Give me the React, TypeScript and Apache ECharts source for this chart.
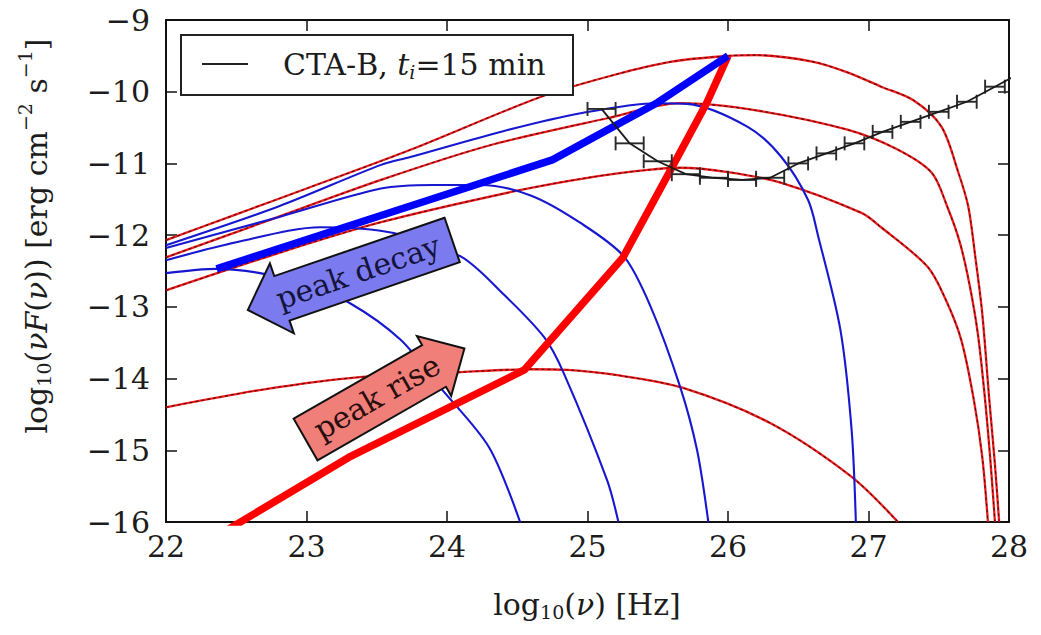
import React, { useEffect, useRef } from "react";
import * as echarts from "echarts";

// ---------- data (log10 nu [Hz], log10 nuF(nu) [erg cm^-2 s^-1]) ----------
const X_MIN = 22, X_MAX = 28, Y_MIN = -16, Y_MAX = -9;

// rising-phase spectra (red)
const R1_X = [22.0, 22.5, 23.0, 23.74, 24.67, 25.2, 25.6, 26.0, 26.2, 26.6, 26.85, 27.09, 27.32, 27.52, 27.64, 27.71, 27.76, 27.81, 27.86, 27.9, 27.93];
const R1_Y = [-12.07, -11.71, -11.35, -10.81, -10.07, -9.76, -9.58, -9.5, -9.49, -9.58, -9.73, -9.93, -10.12, -10.49, -11.13, -11.6, -12.3, -13.1, -14.3, -15.2, -16.0];
const R2_X = [22.0, 22.75, 23.53, 24.3, 25.14, 25.66, 26.2, 26.85, 27.2, 27.45, 27.56, 27.65, 27.72, 27.78, 27.83, 27.87, 27.9];
const R2_Y = [-12.31, -11.78, -11.23, -10.75, -10.37, -10.16, -10.26, -10.53, -10.8, -11.13, -11.6, -12.1, -12.7, -13.4, -14.3, -15.2, -16.0];
const R3_X = [22.0, 22.8, 23.53, 24.5, 25.0, 25.43, 25.66, 26.0, 26.38, 26.95, 27.09, 27.42, 27.55, 27.66, 27.75, 27.81, 27.85];
const R3_Y = [-12.77, -12.25, -11.82, -11.38, -11.2, -11.09, -11.06, -11.12, -11.27, -11.69, -11.89, -12.44, -12.9, -13.46, -14.3, -15.1, -16.0];
const R4_X = [22.0, 22.7, 23.38, 24.1, 24.6, 24.86, 25.2, 25.68, 26.3, 26.88, 27.21];
const R4_Y = [-14.4, -14.15, -13.98, -13.91, -13.87, -13.88, -13.95, -14.13, -14.62, -15.37, -16.0];

// decaying-phase spectra (blue)
const B1_X = [22.0, 22.8, 23.53, 23.74, 24.4, 24.95, 25.5, 25.71, 26.14, 26.38, 26.57, 26.64, 26.8, 26.88, 26.91];
const B1_Y = [-12.14, -11.6, -11.02, -10.91, -10.55, -10.3, -10.16, -10.17, -10.49, -10.91, -11.51, -12.0, -13.32, -14.72, -16.0];
const B2_X = [22.0, 22.8, 23.53, 23.9, 24.24, 24.6, 24.95, 25.26, 25.45, 25.66, 25.78, 25.86];
const B2_Y = [-12.18, -11.75, -11.35, -11.3, -11.3, -11.45, -11.83, -12.3, -13.0, -14.12, -15.0, -16.0];
const B3_X = [22.0, 22.5, 23.1, 23.62, 24.1, 24.4, 24.69, 24.83, 25.14, 25.22];
const B3_Y = [-12.35, -12.1, -11.89, -11.97, -12.3, -12.82, -13.42, -13.92, -15.42, -16.0];
const B4_X = [22.0, 22.36, 22.67, 23.0, 23.31, 23.67, 23.95, 24.3, 24.52];
const B4_Y = [-12.53, -12.47, -12.53, -12.7, -12.95, -13.46, -14.12, -14.96, -16.0];

// peak tracks
const RISE_X = [22.0, 23.3, 24.55, 25.25, 25.6, 25.85, 26.0];
const RISE_Y = [-16.62, -15.1, -13.88, -12.32, -11.06, -10.15, -9.5];
const DECAY_X = [22.36, 24.2, 24.75, 25.5, 26.0];
const DECAY_Y = [-12.47, -11.3, -10.95, -10.15, -9.5];

// CTA-B sensitivity, t_i = 15 min
const CTA_X = [25.1, 25.3, 25.5, 25.7, 25.9, 26.1, 26.3, 26.5, 26.7, 26.9, 27.1, 27.3, 27.5, 27.7, 27.9, 28.1];
const CTA_Y = [-10.24, -10.72, -10.97, -11.15, -11.2, -11.23, -11.2, -11.0, -10.86, -10.72, -10.56, -10.42, -10.28, -10.14, -9.93, -9.72];
const CTA_XERR = [0.1, 0.1, 0.1, 0.1, 0.1, 0.1, 0.1, 0.07, 0.07, 0.07, 0.07, 0.07, 0.07, 0.07, 0.07, 0.07];

const LEGEND_LABEL = "CTA-B, ";
const ARROW_DECAY = "peak decay";
const ARROW_RISE = "peak rise";

// ---------- styling ----------
const FONT = "'DejaVu Serif', serif";
const TXT = "#1c1c1c";

const pairs = (xs: number[], ys: number[]) => xs.map((x, i) => [x, ys[i]]);

const lineBase = {
  type: "line",
  symbol: "none",
  silent: true,
  smooth: 0.3,
  clip: true,
};

function redCurve(xs: number[], ys: number[]) {
  return [
    { ...lineBase, data: pairs(xs, ys), lineStyle: { color: "#f01c1c", width: 2.3 }, z: 2 },
    { ...lineBase, data: pairs(xs, ys), lineStyle: { color: "rgba(25,0,0,0.72)", width: 1.1, type: [3, 3] }, z: 3 },
  ];
}
function blueCurve(xs: number[], ys: number[]) {
  return [{ ...lineBase, data: pairs(xs, ys), lineStyle: { color: "#1717d0", width: 2.1 }, z: 4 }];
}

function arrowPts(L: number, bw: number, hw: number, hl: number, dir: number) {
  const pts = [
    [-L / 2, -bw], [L / 2 - hl, -bw], [L / 2 - hl, -hw], [L / 2, 0],
    [L / 2 - hl, hw], [L / 2 - hl, bw], [-L / 2, bw],
  ];
  return pts.map(([x, y]) => [x * dir, y]);
}

const deg = (d: number) => (d * Math.PI) / 180;

const axisCommon = {
  type: "value",
  axisLine: { show: true, onZero: false, lineStyle: { color: "#111", width: 2 } },
  axisTick: { show: true, inside: true, length: 11, lineStyle: { color: "#111", width: 1.5 } },
  splitLine: { show: false },
  interval: 1,
};

const option = {
  animation: false,
  backgroundColor: "#ffffff",
  grid: { left: 166, right: 32, top: 20, bottom: 113, containLabel: false },
  xAxis: [
    {
      ...axisCommon, min: X_MIN, max: X_MAX, position: "bottom",
      axisLabel: { show: true, margin: 9, color: TXT, fontFamily: FONT, fontSize: 30 },
    },
    {
      ...axisCommon, min: X_MIN, max: X_MAX, position: "top",
      axisLabel: { show: false },
    },
  ],
  yAxis: [
    {
      ...axisCommon, min: Y_MIN, max: Y_MAX, position: "left",
      axisLabel: {
        show: true, margin: 16, color: TXT, fontFamily: FONT, fontSize: 30,
        formatter: (v: number) => (v < 0 ? "\u2212" + Math.abs(v) : String(v)),
      },
    },
    {
      ...axisCommon, min: Y_MIN, max: Y_MAX, position: "right",
      axisLabel: { show: false },
    },
  ],
  series: [
    ...redCurve(R4_X, R4_Y),
    ...redCurve(R3_X, R3_Y),
    ...redCurve(R2_X, R2_Y),
    ...redCurve(R1_X, R1_Y),
    ...blueCurve(B1_X, B1_Y),
    ...blueCurve(B2_X, B2_Y),
    ...blueCurve(B3_X, B3_Y),
    ...blueCurve(B4_X, B4_Y),
    { type: "line", symbol: "none", silent: true, clip: true, data: pairs(RISE_X, RISE_Y), lineStyle: { color: "#ff0000", width: 7.5 }, z: 5 },
    { type: "line", symbol: "none", silent: true, clip: true, data: pairs(DECAY_X, DECAY_Y), lineStyle: { color: "#0000ff", width: 7.5 }, z: 5 },
    { type: "line", symbol: "none", silent: true, clip: true, data: pairs(CTA_X, CTA_Y), lineStyle: { color: "#1a1a1a", width: 1.8 }, z: 6 },
    {
      type: "custom",
      silent: true,
      clip: true,
      z: 6,
      data: CTA_X.map((x, i) => [x, CTA_Y[i], CTA_XERR[i]]),
      encode: { x: 0, y: 1 },
      renderItem: (params: any, api: any) => {
        const x = api.value(0), y = api.value(1), e = api.value(2);
        const a = api.coord([x - e, y]);
        const b = api.coord([x + e, y]);
        const h = 7;
        const st = { stroke: "#2a2a2a", lineWidth: 1.9 };
        return {
          type: "group",
          children: [
            { type: "line", shape: { x1: a[0], y1: a[1], x2: b[0], y2: b[1] }, style: st },
            { type: "line", shape: { x1: a[0], y1: a[1] - h, x2: a[0], y2: a[1] + h }, style: st },
            { type: "line", shape: { x1: b[0], y1: b[1] - h, x2: b[0], y2: b[1] + h }, style: st },
          ],
        };
      },
    },
  ],
  graphic: [
    // legend
    { type: "rect", z: 100, shape: { x: 181, y: 35, width: 392, height: 60 }, style: { fill: "#fff", stroke: "#222", lineWidth: 2 } },
    { type: "line", z: 101, shape: { x1: 202, y1: 64, x2: 248, y2: 64 }, style: { stroke: "#222", lineWidth: 2 } },
    {
      type: "text", z: 101, x: 283, y: 64,
      style: {
        text: LEGEND_LABEL + "{it|t}{sub|i}=15 min",
        fill: TXT, font: `30px ${FONT}`, align: "left", verticalAlign: "middle",
        rich: {
          it: { fontFamily: FONT, fontSize: 30, fontStyle: "italic", fill: TXT },
          sub: { fontFamily: FONT, fontSize: 19, fontStyle: "italic", fill: TXT, padding: [16, 0, 0, 0] },
        },
      },
    },
    // peak decay arrow
    {
      type: "polygon", z: 100, x: 350, y: 275, rotation: deg(18.9),
      shape: { points: arrowPts(216, 23.5, 37, 36, -1) },
      style: { fill: "#7b7bef", stroke: "#111", lineWidth: 2, lineJoin: "miter" },
    },
    {
      type: "text", z: 101, x: 358, y: 272, rotation: deg(18.9),
      style: { text: ARROW_DECAY, fill: "#14143c", font: `30px ${FONT}`, align: "center", verticalAlign: "middle" },
    },
    // peak rise arrow
    {
      type: "polygon", z: 100, x: 385, y: 394, rotation: deg(29.8),
      shape: { points: arrowPts(183, 24, 34.5, 35, 1) },
      style: { fill: "#f07f7a", stroke: "#111", lineWidth: 2, lineJoin: "miter" },
    },
    {
      type: "text", z: 101, x: 377, y: 397, rotation: deg(29.8),
      style: { text: ARROW_RISE, fill: "#2a0e0e", font: `30px ${FONT}`, align: "center", verticalAlign: "middle" },
    },
    // axis titles
    {
      type: "text", z: 101, x: 587, y: 604,
      style: {
        text: "log{sub|10}({it|ν}) [Hz]",
        fill: TXT, font: `30px ${FONT}`, align: "center", verticalAlign: "middle",
        rich: {
          sub: { fontFamily: FONT, fontSize: 19, fill: TXT, padding: [16, 0, 0, 0] },
          it: { fontFamily: FONT, fontSize: 30, fontStyle: "italic", fill: TXT },
        },
      },
    },
    {
      type: "text", z: 101, x: 36, y: 236, rotation: Math.PI / 2,
      style: {
        text: "log{sub|10}({it|νF}({it|ν})) [erg cm{sup|\u22122} s{sup|\u22121}]",
        fill: TXT, font: `30px ${FONT}`, align: "center", verticalAlign: "middle",
        rich: {
          sub: { fontFamily: FONT, fontSize: 19, fill: TXT, padding: [16, 0, 0, 0] },
          sup: { fontFamily: FONT, fontSize: 19, fill: TXT, padding: [0, 0, 22, 0] },
          it: { fontFamily: FONT, fontSize: 30, fontStyle: "italic", fill: TXT },
        },
      },
    },
  ],
};

export default function App() {
  const ref = useRef<HTMLDivElement>(null);
  useEffect(() => {
    const chart = echarts.init(ref.current as HTMLDivElement, null, { renderer: "svg" });
    chart.setOption(option as any);
    return () => chart.dispose();
  }, []);
  return (
    <div
      ref={ref}
      style={{ position: "fixed", left: 0, top: 0, width: 1041, height: 635, background: "#fff" }}
    />
  );
}
